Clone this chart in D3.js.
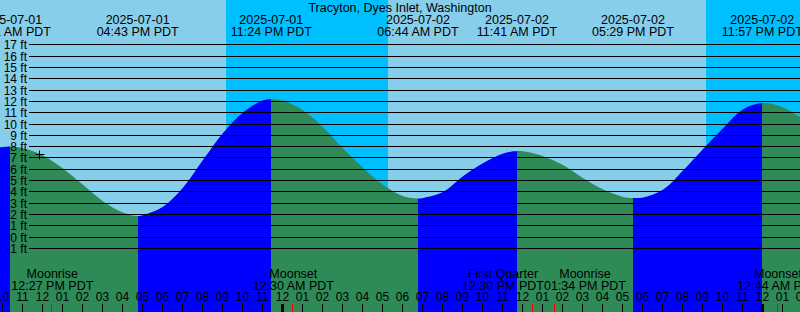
<!DOCTYPE html>
<html>
<head>
<meta charset="utf-8">
<script src="https://cdn.jsdelivr.net/npm/d3@7"></script>
<style>
  html, body { margin: 0; padding: 0; background: #fff; }
  svg { display: block; }
  text { font-family: "Liberation Sans", Arial, Helvetica, sans-serif; fill: #000; }
</style>
</head>
<body>
<svg id="chart" width="800" height="312"></svg>
<script>
// ---------------- data ----------------
const title = "Tracyton, Dyes Inlet, Washington";

// high / low tide events (PDT)
const tideTimes   = ["2025-07-01 10:21", "2025-07-01 16:43", "2025-07-01 23:24", "2025-07-02 06:44",
                     "2025-07-02 11:41", "2025-07-02 17:29", "2025-07-02 23:57"];
const tideHeights = [8.0, 1.85, 12.2, 3.4, 7.6, 3.45, 11.85];

const hourlyStart = "2025-07-01 10:00";
const hourlyHeights = [7.97, 7.85, 7.2, 6.05, 4.6, 3.15, 2.15, 1.95, 2.7, 4.4,
                       6.85, 9.23, 11.05, 12.1, 12.05, 11.2, 9.7, 7.8, 6.1, 4.6,
                       3.6, 3.45, 4.0, 5.4, 6.55, 7.4, 7.58, 7.15, 6.35, 5.2,
                       4.2, 3.55, 3.5, 4.2, 5.9, 7.8, 9.65, 11.3, 11.84, 11.45, 10.4];
const leftEdgeTime = "2025-07-01 09:50";
const leftEdgeHeight = 7.93;

// night (sunset -> sunrise)
const nightStarts = ["2025-07-01 21:08", "2025-07-02 21:08"];
const nightEnds   = ["2025-07-02 05:14", "2025-07-03 05:14"];

// moon events
const moonNames = ["Moonrise", "Moonset", "First Quarter", "Moonrise", "Moonset"];
const moonTimes = ["2025-07-01 12:27", "2025-07-02 00:30", "2025-07-02 12:30", "2025-07-02 13:34", "2025-07-03 00:44"];

// current-time marker
const markTime = "2025-07-01 11:46";
const markHeight = 7.35;

// axis
const domainStart = "2025-07-01 10:00";
const domainEnd   = "2025-07-03 02:00";
const heightTicks = d3.range(-1, 18);

// ---------------- drawing ----------------
const W = 800, H = 312;
const parse = d3.utcParse("%Y-%m-%d %H:%M");
const fmtDate = d3.utcFormat("%Y-%m-%d");
const fmtTime = d3.utcFormat("%I:%M %p PDT");
const fmtHour = d3.utcFormat("%I");

const colDay = "#87CEEB", colNight = "#00BFFF", colFlood = "#0000FF", colEbb = "#2E8B57";

const x = d3.scaleUtc().domain([parse(domainStart), parse(domainEnd)]).range([3.3, 803.3]);
const y = d3.scaleLinear().domain([-1, 17]).range([248.3, 44.9]);
const crisp = v => Math.floor(v) + 0.5;

const svg = d3.select("#chart");

// background: day everywhere, night bands
svg.append("rect").attr("x", 0).attr("y", 0).attr("width", W).attr("height", H).attr("fill", colDay);
svg.append("g").selectAll("rect").data(nightStarts.map((s, i) => [parse(s), parse(nightEnds[i])]))
  .join("rect")
  .attr("x", d => Math.round(x(d[0])))
  .attr("y", 0)
  .attr("width", d => Math.min(W, Math.round(x(d[1]))) - Math.round(x(d[0])))
  .attr("height", H)
  .attr("fill", colNight);

// water level series (hourly readings + extrema; drop hourly points too close to an extremum)
const tides = tideTimes.map((t, i) => ({ t: parse(t), h: tideHeights[i] }));
const t0 = parse(hourlyStart);
const hourly = hourlyHeights.map((h, i) => ({ t: d3.utcHour.offset(t0, i), h }))
  .filter(p => !tides.some(e => Math.abs(e.t - p.t) < 15 * 60000));
const series = [{ t: parse(leftEdgeTime), h: leftEdgeHeight }, ...hourly, ...tides]
  .sort((a, b) => a.t - b.t);

const area = d3.area()
  .x(d => x(d.t))
  .y0(H)
  .y1(d => y(d.h))
  .curve(d3.curveCatmullRom.alpha(0.5));

// segments between extrema: rising = flood (blue), falling = ebb (green)
const bounds = [x.domain()[0], ...tides.map(d => d.t), x.domain()[1]];
const segs = [];
for (let i = 0; i < bounds.length - 1; i++) {
  let rising;
  if (i < tides.length) {
    const next = tides[i];
    const prev = i > 0 ? tides[i - 1] : null;
    rising = prev ? next.h > prev.h : next.h > tides[1].h;
  } else {
    const last = tides[tides.length - 1];
    rising = last.h < tides[tides.length - 2].h;
  }
  segs.push({ a: bounds[i], b: bounds[i + 1], rising });
}
const defs = svg.append("defs");
segs.forEach((s, i) => {
  const xa = i === 0 ? 0 : Math.round(x(s.a));
  const xb = i === segs.length - 1 ? W : Math.round(x(s.b));
  defs.append("clipPath").attr("id", "seg" + i)
    .append("rect").attr("x", xa).attr("y", 0).attr("width", xb - xa).attr("height", H);
  svg.append("path")
    .datum(series)
    .attr("d", area)
    .attr("fill", s.rising ? colFlood : colEbb)
    .attr("clip-path", `url(#seg${i})`);
});

// grid lines + height labels
const yAxisG = svg.append("g");
yAxisG.selectAll("line").data(heightTicks).join("line")
  .attr("x1", 29).attr("x2", W)
  .attr("y1", d => crisp(y(d))).attr("y2", d => crisp(y(d)))
  .attr("stroke", "#000").attr("stroke-width", 1);
yAxisG.selectAll("text").data(heightTicks).join("text")
  .attr("x", 27).attr("y", d => crisp(y(d)))
  .attr("dy", "0.36em")
  .attr("text-anchor", "end")
  .style("font-size", "12px")
  .text(d => d + " ft");

// title
svg.append("text").attr("x", 400).attr("y", 12).attr("text-anchor", "middle")
  .style("font-size", "12.5px").text(title);

// tide event labels at top
const topG = svg.append("g").selectAll("g").data(tides).join("g")
  .attr("transform", d => `translate(${x(d.t)},0)`);
topG.append("text").attr("y", 24).attr("text-anchor", "middle").style("font-size", "12.5px")
  .text(d => fmtDate(d.t));
topG.append("text").attr("y", 36).attr("text-anchor", "middle").style("font-size", "12.5px")
  .text(d => fmtTime(d.t));

// moon labels with simple de-overlap
const moons = moonTimes.map((t, i) => ({ t: parse(t), name: moonNames[i] }));
const mg = svg.append("g").selectAll("g").data(moons).join("g");
mg.append("text").attr("y", 278).attr("text-anchor", "middle")
  .style("font-size", "12.5px").text(d => d.name);
mg.append("text").attr("y", 290).attr("text-anchor", "middle")
  .style("font-size", "12.5px").text(d => fmtTime(d.t));
mg.each(function (d) {
  const ws = [];
  d3.select(this).selectAll("text").each(function () { ws.push(this.getComputedTextLength()); });
  d.w = Math.max(...ws);
  d.cx = x(d.t);
});
for (let i = 0; i < moons.length - 1; i++) {
  const a = moons[i], b = moons[i + 1];
  const need = (a.w + b.w) / 2;
  if (b.cx - a.cx < need) {
    const mid = (a.cx + b.cx) / 2;
    a.cx = mid - need / 2;
    b.cx = mid + need / 2;
  }
}
mg.attr("transform", d => `translate(${d.cx},0)`);

// hour labels and ticks
const hours = d3.utcHour.range(x.domain()[0], d3.utcHour.offset(x.domain()[1], 1));
svg.append("g").selectAll("text").data(hours).join("text")
  .attr("x", d => Math.round(x(d)) - 0.5)
  .attr("y", 301)
  .attr("text-anchor", "middle")
  .style("font-size", "12px")
  .text(d => fmtHour(d));
svg.append("g").selectAll("line").data(hours).join("line")
  .attr("x1", d => Math.round(x(d)) - 0.5).attr("x2", d => Math.round(x(d)) - 0.5)
  .attr("y1", 304).attr("y2", H)
  .attr("stroke", "#000")
  .attr("stroke-width", d => d.getUTCHours() === 0 ? 3 : 1);
svg.append("g").selectAll("line").data(moons).join("line")
  .attr("x1", d => Math.round(x(d.t)) - 0.5).attr("x2", d => Math.round(x(d.t)) - 0.5)
  .attr("y1", 304).attr("y2", H)
  .attr("stroke", "#FF0000").attr("stroke-width", 1);

// current-time marker
const mx = Math.round(x(parse(markTime))) + 0.5, my = Math.round(y(markHeight)) + 0.5;
svg.append("path")
  .attr("d", `M${mx - 4},${my}H${mx + 5}M${mx},${my - 4}V${my + 5}`)
  .attr("stroke", "#000").attr("stroke-width", 1).attr("fill", "none");
</script>
</body>
</html>
